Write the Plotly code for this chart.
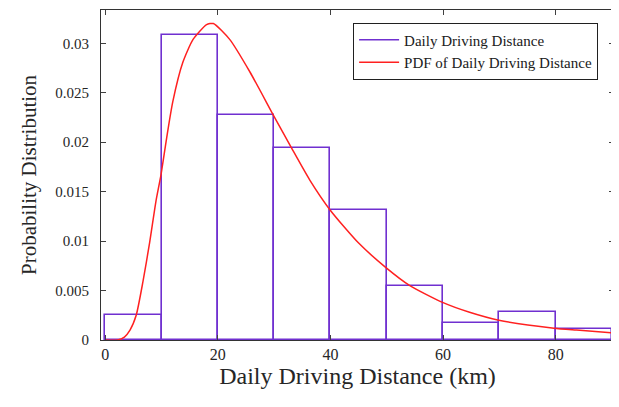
import plotly.graph_objects as go

# Histogram data (probability density per 10 km bin)
bin_left = [0, 10, 20, 30, 40, 50, 60, 70, 80]
bin_width = 10
hist_density = [0.00255, 0.0308, 0.0228, 0.0194, 0.01313, 0.0055, 0.0017, 0.00288, 0.0011]

# PDF curve
pdf_x = [0, 2.2, 3.4, 4.4, 5.5, 6.7, 7.9, 9.0, 9.9, 10.9, 12.0, 13.8, 15.6, 18.0, 19.2,
         22.1, 25.7, 29.8, 33.1, 36.3, 40.0, 45.0, 49.9, 54.1, 59.9, 64.7,
         69.9, 79.7, 83.7, 90.3]
pdf_y = [0, 0, 0.0003, 0.0010, 0.0025, 0.0059, 0.0099, 0.0140, 0.0167, 0.0204, 0.0241,
         0.0281, 0.0304, 0.0319, 0.0320, 0.0304, 0.0271, 0.0228, 0.0194, 0.0162,
         0.0131, 0.0098, 0.0073, 0.0055, 0.0038, 0.0028, 0.0020, 0.0012,
         0.0010, 0.0007]

x_ticks = [0, 20, 40, 60, 80]
y_ticks = [0, 0.005, 0.01, 0.015, 0.02, 0.025, 0.03]
y_tick_text = ["0", "0.005", "0.01", "0.015", "0.02", "0.025", "0.03"]

purple = "#7030D0"
red = "#FF2020"
font = "Liberation Serif"

fig = go.Figure()
fig.add_trace(go.Bar(
    x=bin_left, y=hist_density, width=bin_width, offset=0,
    marker=dict(color="rgba(0,0,0,0)", line=dict(color=purple, width=1.6)),
    showlegend=False, hoverinfo="skip",
))
fig.add_trace(go.Scatter(
    x=[None], y=[None], mode="lines", line=dict(color=purple, width=1.6),
    name="Daily Driving Distance",
))
fig.add_trace(go.Scatter(
    x=pdf_x, y=pdf_y, mode="lines", line=dict(color=red, width=1.5, shape="spline", smoothing=0.6),
    name="PDF of Daily Driving Distance",
))

axis_common = dict(
    showgrid=False, zeroline=False, showline=True, linecolor="#333333", linewidth=1.2,
    mirror="ticks", ticks="inside", ticklen=5, tickcolor="#404040",
)

# page body adds an 8px offset, margins compensate
fig.update_layout(
    width=619, height=407,
    margin=dict(l=93, r=13, t=2, b=75),
    paper_bgcolor="white", plot_bgcolor="white",
    font=dict(family=font, color="#262626"),
    bargap=0,
    xaxis=dict(range=[-0.75, 90.35], tickvals=x_ticks,
               tickfont=dict(family=font, size=16, color="#262626"),
               title=dict(text="Daily Driving Distance (km)", font=dict(family=font, size=24), standoff=2),
               **axis_common),
    yaxis=dict(range=[0, 0.03337], tickvals=y_ticks, ticktext=y_tick_text, ticklabelstandoff=8,
               tickfont=dict(family=font, size=15, color="#262626"),
               title=dict(text="Probability Distribution", font=dict(family=font, size=21), standoff=12),
               **axis_common),
    legend=dict(x=0.969, y=0.962, xanchor="right", yanchor="top",
                bgcolor="white", bordercolor="#202020", borderwidth=1,
                font=dict(family=font, size=15, color="#202020"),
                tracegroupgap=0, itemwidth=40),
)

fig.write_html("out.html")
